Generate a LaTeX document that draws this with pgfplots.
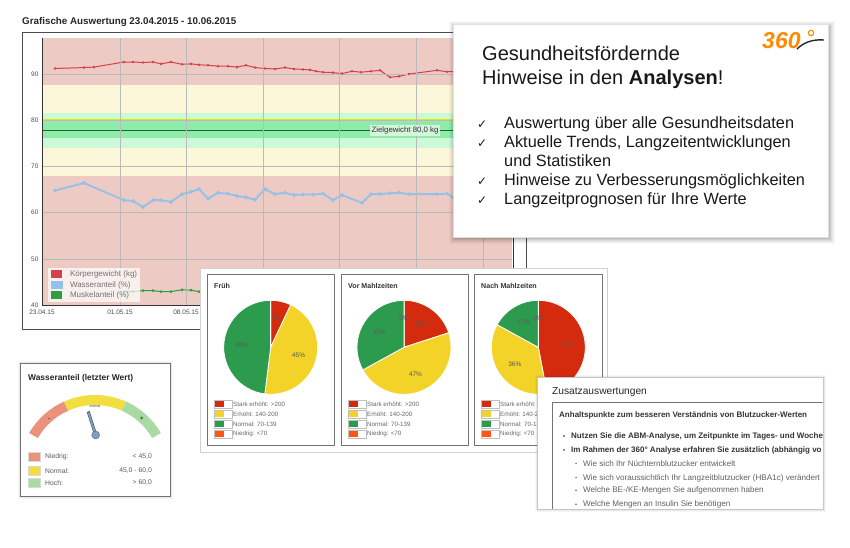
\documentclass[border=0pt]{standalone}
\usepackage{pgfplots}
\usepackage{pgfplotstable}
\pgfplotsset{compat=1.18}
\usepackage{fontspec}
\setmainfont{Liberation Sans}
\newfontfamily\dejavu{DejaVu Sans}

\definecolor{bandRed}{HTML}{EDCAC3}
\definecolor{bandYel}{HTML}{FDF7D9}
\definecolor{bandLGrn}{HTML}{CCFAD8}
\definecolor{bandGrn}{HTML}{8FEBA9}
\definecolor{lineRed}{HTML}{D4414A}
\definecolor{lineBlue}{HTML}{92C1EA}
\definecolor{lineGreen}{HTML}{2F9E3F}
\definecolor{zielYel}{HTML}{F2E200}
\definecolor{zielGrn}{HTML}{176A2A}
\definecolor{pie0}{HTML}{D42B0E}
\definecolor{pie1}{HTML}{F3D327}
\definecolor{pie2}{HTML}{2D9B4E}
\definecolor{pie3}{HTML}{FF5515}
\definecolor{gRed}{HTML}{EC927C}
\definecolor{gYel}{HTML}{F2DE3E}
\definecolor{gGrn}{HTML}{A9DAA3}
\definecolor{needle}{HTML}{7D9EC2}
\definecolor{logoOrange}{HTML}{FF8A00}

% Koerpergewicht, Wasseranteil, Muskelanteil (x = Position auf der Zeitachse)
\pgfplotstableread{
x    kg
13   91.2
42   91.4
52   91.5
82   92.6
91   92.6
101  92.5
111  92.6
119  92.2
129  92.6
140  92.1
149  92.2
157  92.0
166  91.9
176  91.7
186  91.7
195  91.5
204  91.9
213  91.4
223  91.2
233  91.1
243  91.4
252  91.1
261  91.0
268  90.9
274  90.6
281  90.4
291  90.3
300  90.1
310  90.6
319  90.4
329  90.6
338  90.8
348  89.3
357  89.5
367  90.0
395  90.8
405  90.5
440  90.7
468  90.6
}\gewicht

\pgfplotstableread{
x    w
13   64.8
42   66.4
82   62.7
91   62.5
101  61.2
111  62.7
119  62.7
129  62.3
140  64.0
149  64.5
157  65.1
166  63.0
176  64.3
186  64.1
195  63.6
204  63.3
213  62.8
223  65.1
233  64.0
243  64.3
252  63.8
261  63.9
271  63.9
281  64.1
291  62.7
300  63.8
320  62.1
329  64.0
338  64.0
348  64.2
357  64.3
367  64.0
395  64.0
405  64.1
411  63.3
440  63.5
468  63.5
}\wasser

\pgfplotstableread{
x    m
82   42.9
91   42.9
101  43.1
111  43.1
119  42.9
129  42.9
140  43.3
149  43.2
157  42.9
170  43.0
200  43.1
240  43.0
280  43.0
320  43.1
360  43.0
400  43.0
440  43.1
468  43.0
}\muskel

\pgfplotstableread{
cat  frueh  vor  nach
red  7      20   47
yel  45     47   36
grn  48     33   17
ora  0      0    0
}\piedata

% #1 = Spalte, #2 = 1: Beschriftung 0% weglassen
\newcommand{\drawpie}[2]{%
  \xdef\pstart{90}%
  \pgfplotstableforeachcolumnelement{#1}\of\piedata\as\p{%
    \pgfmathsetmacro{\pend}{\pstart-3.6*\p}%
    \fill[pie\pgfplotstablerow, draw=white, line width=0.8pt] (axis cs:0,0) -- ++(\pstart:47pt) arc[start angle=\pstart, end angle=\pend, radius=47pt] -- cycle;%
    \xdef\pstart{\pend}%
  }%
  \xdef\pstart{90}%
  \pgfplotstableforeachcolumnelement{#1}\of\piedata\as\p{%
    \pgfmathsetmacro{\pend}{\pstart-3.6*\p}%
    \pgfmathsetmacro{\pmid}{(\pstart+\pend)/2}%
    \ifnum\p=0 \ifnum#2=1 \else
      \path (axis cs:0,0) ++(\pmid:29pt) node[font=\fontsize{6.5}{7}\selectfont, text=black!65] {\p\%};%
    \fi\else
      \path (axis cs:0,0) ++(\pmid:29pt) node[font=\fontsize{6.5}{7}\selectfont, text=black!65] {\p\%};%
    \fi
    \xdef\pstart{\pend}%
  }%
}

\newcommand{\pielegend}[1]{% #1 = left x
  \foreach \c/\t [count=\i from 0] in {pie0/Stark erhöht: >200, pie1/Erhöht: 140-200, pie2/Normal: 70-139, pie3/Niedrig: <70}{
    \pgfmathsetmacro{\yy}{547-404-10*\i}
    \draw[black!25, fill=white] (#1,\yy-4) rectangle (#1+18,\yy+4);
    \fill[\c] (#1+0.6,\yy-3.4) rectangle (#1+9.5,\yy+3.4);
    \node[anchor=west, inner sep=0, font=\fontsize{6.2}{7}\selectfont, text=black!60] at (#1+19,\yy) {\t};
  }
}

\begin{document}
\begin{tikzpicture}[x=1pt, y=1pt]
\fill[white] (0,0) rectangle (850,547);

% ---------- Verlaufsdiagramm ----------
\node[anchor=base west, inner sep=0, font=\bfseries\fontsize{9.8}{11}\selectfont, text=black!85] at (22,547-25) {Grafische Auswertung 23.04.2015 - 10.06.2015};
\draw[black!70, line width=0.8pt] (22,547-329) rectangle (526,547-32);
\draw[black!80, line width=0.8pt] (513,547-38) -- (513,547-305);

\begin{axis}[
  at={(42pt,242pt)}, anchor=south west,
  scale only axis, width=470pt, height=267pt,
  xmin=0, xmax=470, ymin=40, ymax=97.8,
  axis on top,
  axis lines*=left,
  axis line style={-, black!80, line width=0.9pt},
  xtick={0,78,144,221,297,374,441},
  xticklabels={23.04.15,01.05.15,08.05.15,15.05.15,22.05.15,29.05.15,05.06.15},
  ytick={40,50,60,70,80,90},
  grid=major,
  major grid style={black!27, line width=0.5pt},
  major tick length=0pt,
  tick label style={font=\fontsize{6.5}{7}\selectfont, text=black!70},
  xticklabel style={yshift=-1pt},
  /pgf/number format/assume math mode=true,
  legend style={at={(0.0128,0.01)}, anchor=south west, fill=white, fill opacity=0.7,
    text opacity=1, draw=none, font=\fontsize{8}{9}\selectfont, text=black!55,
    row sep=2pt, column sep=7pt, inner sep=2.5pt, nodes={inner sep=0.5pt}},
  legend cell align=left,
  legend image code/.code={\fill[#1, fill opacity=1] (0pt,-3.5pt) rectangle (10pt,3.5pt);},
]
\addplot[fill=bandRed, draw=none, forget plot] coordinates {(0,87.6)(470,87.6)(470,97.8)(0,97.8)};
\addplot[fill=bandYel, draw=none, forget plot] coordinates {(0,81.5)(470,81.5)(470,87.6)(0,87.6)};
\addplot[fill=bandLGrn, draw=none, forget plot] coordinates {(0,73.9)(470,73.9)(470,81.5)(0,81.5)};
\addplot[fill=bandGrn, draw=none, forget plot] coordinates {(0,76.1)(470,76.1)(470,79.8)(0,79.8)};
\addplot[fill=bandYel, draw=none, forget plot] coordinates {(0,68.0)(470,68.0)(470,73.9)(0,73.9)};
\addplot[fill=bandRed, draw=none, forget plot] coordinates {(0,40)(470,40)(470,68.0)(0,68.0)};
\addplot[zielYel, line width=1.6pt, forget plot] coordinates {(0,80)(470,80)};
\addplot[zielGrn, line width=1pt, forget plot] coordinates {(0,77.8)(470,77.8)};

\addplot[lineRed, line width=1pt, mark=*, mark size=0.7pt] table[x=x, y=kg] {\gewicht};
\addlegendentry{Körpergewicht (kg)}
\addplot[lineBlue, line width=1.8pt, mark=*, mark size=0.8pt, mark options={fill=black!40!lineBlue, draw=none}] table[x=x, y=w] {\wasser};
\addlegendentry{Wasseranteil (\%)}
\addplot[lineGreen, line width=1pt, mark=*, mark size=0.8pt] table[x=x, y=m] {\muskel};
\addlegendentry{Muskelanteil (\%)}

\coordinate (ziel) at (axis cs:363,77.8);
\end{axis}
\node[fill=black!4!bandLGrn!60!white, fill opacity=0.92, text opacity=1, inner sep=2pt,
  font=\fontsize{7.8}{8}\selectfont, text=black!80] at (ziel) {Zielgewicht 80,0 kg};

% ---------- Hinweisbox ----------
\foreach \d/\o in {6/0.025,5/0.03,4/0.04,3/0.05,2/0.06,1/0.08}{
  \fill[black, opacity=\o] (453-\d+2,547-237-\d-1) rectangle (828+\d+1,547-24+\d-3);
}
\fill[white] (453,547-237) rectangle (828,547-24);
\draw[black!12] (453,547-237) rectangle (828,547-24);
\node[anchor=base west, inner sep=0, font=\fontsize{20}{22}\selectfont, text=black!90] at (482,547-61) {Gesundheitsfördernde};
\node[anchor=base west, inner sep=0, font=\fontsize{20}{22}\selectfont, text=black!90] at (482,547-85) {Hinweise in den \textbf{Analysen}!};
\foreach \yy/\t/\c in {129/Auswertung über alle Gesundheitsdaten/1, 148/{Aktuelle Trends, Langzeitentwicklungen}/1, 167/und Statistiken/0, 186/Hinweise zu Verbesserungsmöglichkeiten/1, 205/Langzeitprognosen für Ihre Werte/1}{
  \node[anchor=base west, inner sep=0, font=\fontsize{16.3}{18}\selectfont, text=black!90] at (504,547-\yy) {\t};
  \ifnum\c=1
    \node[anchor=base west, inner sep=0, font=\dejavu\fontsize{12}{13}\selectfont, text=black!90] at (477,547-\yy) {✓};
  \fi
}
% Logo
\node[anchor=base west, inner sep=0, font=\bfseries\itshape\fontsize{23}{24}\selectfont, text=logoOrange] at (762,547-49) {360};
\draw[black!85, line width=1.4pt] (797,547-49) .. controls (803,547-43) and (812,547-39) .. (824,547-40);
\draw[logoOrange, line width=1.1pt] (811,547-33) circle (2.7pt);

% ---------- Kreisdiagramme ----------
\fill[white] (200,547-452) rectangle (607,547-268);
\draw[black!18] (200,547-452) rectangle (607,547-268);
\foreach \xa/\xb in {207/334, 341/468, 474/602}{
  \draw[black!55, line width=0.8pt] (\xa,547-445) rectangle (\xb,547-274);
}
\node[anchor=base west, inner sep=0, font=\bfseries\fontsize{7.1}{8}\selectfont, text=black!80] at (214,547-288) {Früh};
\node[anchor=base west, inner sep=0, font=\bfseries\fontsize{7.1}{8}\selectfont, text=black!80] at (348,547-288) {Vor Mahlzeiten};
\node[anchor=base west, inner sep=0, font=\bfseries\fontsize{7.1}{8}\selectfont, text=black!80] at (481,547-288) {Nach Mahlzeiten};

\begin{axis}[at={(270.7pt,199.7pt)}, anchor=center, scale only axis, width=100pt, height=100pt,
  xmin=-50, xmax=50, ymin=-50, ymax=50, hide axis, clip=false]
\addplot[draw=none, forget plot] coordinates {(-50,-50)(50,50)};
\pgfplotsextra{\drawpie{frueh}{1}}
\end{axis}
\begin{axis}[at={(404pt,199.7pt)}, anchor=center, scale only axis, width=100pt, height=100pt,
  xmin=-50, xmax=50, ymin=-50, ymax=50, hide axis, clip=false]
\addplot[draw=none, forget plot] coordinates {(-50,-50)(50,50)};
\pgfplotsextra{\drawpie{vor}{0}}
\end{axis}
\begin{axis}[at={(538.3pt,199.7pt)}, anchor=center, scale only axis, width=100pt, height=100pt,
  xmin=-50, xmax=50, ymin=-50, ymax=50, hide axis, clip=false]
\addplot[draw=none, forget plot] coordinates {(-50,-50)(50,50)};
\pgfplotsextra{\drawpie{nach}{0}}
\end{axis}
\pielegend{214}
\pielegend{348}
\pielegend{481}

% ---------- Zusatzauswertungen ----------
\foreach \d/\o in {3/0.03,2/0.05,1/0.07}{
  \fill[black, opacity=\o] (537-\d+1,547-509-\d) rectangle (823+\d,547-377+\d-1);
}
\fill[white] (537,547-509) rectangle (823,547-377);
\draw[black!22] (537,547-509) rectangle (823,547-377);
\begin{scope}
\clip (537.5,547-508.5) rectangle (822.5,547-377.5);
\node[anchor=base west, inner sep=0, font=\fontsize{10.2}{12}\selectfont, text=black!85] at (552,547-394) {Zusatzauswertungen};
\draw[black!55, line width=0.8pt] (552,547-512) -- (552,547-402) -- (823,547-402);
\node[anchor=base west, inner sep=0, font=\bfseries\fontsize{8}{9}\selectfont, text=black!80] at (559,547-417.7) {Anhaltspunkte zum besseren Verständnis von Blutzucker-Werten};
\foreach \yy/\t in {438.3/{Nutzen Sie die ABM-Analyse, um Zeitpunkte im Tages- und Woche}, 452.3/{Im Rahmen der 360° Analyse erfahren Sie zusätzlich (abhängig vo}}{
  \node[anchor=base west, inner sep=0, font=\bfseries\fontsize{8}{9}\selectfont, text=black!80] at (571,547-\yy) {\t};
  \fill[black!80] (564,547-\yy+2.4) circle (0.9pt);
}
\foreach \yy/\t in {466/Wie sich Ihr Nüchternblutzucker entwickelt, 480/Wie sich voraussichtlich Ihr Langzeitblutzucker (HBA1c) verändert, 492.7/{Welche BE-/KE-Mengen Sie aufgenommen haben}, 506.7/Welche Mengen an Insulin Sie benötigen}{
  \node[anchor=base west, inner sep=0, font=\fontsize{8.1}{9}\selectfont, text=black!62] at (583,547-\yy) {\t};
  \fill[black!62] (576,547-\yy+2.4) circle (0.85pt);
}
\end{scope}

% ---------- Tachometer Wasseranteil ----------
\foreach \d/\o in {3/0.03,2/0.05,1/0.07}{
  \fill[black, opacity=\o] (20-\d+1,547-496-\d) rectangle (170+\d,547-363+\d-1);
}
\fill[white] (20,547-496) rectangle (170,547-363);
\draw[black!55, line width=0.8pt] (20,547-496) rectangle (170,547-363);
\node[anchor=base west, inner sep=0, font=\bfseries\fontsize{8.4}{9}\selectfont, text=black!85] at (28,547-380) {Wasseranteil (letzter Wert)};
\begin{axis}[at={(20pt,51pt)}, anchor=south west, scale only axis, width=150pt, height=133pt,
  xmin=20, xmax=170, ymin=51, ymax=184, hide axis, clip=false]
\pgfplotsextra{
  \foreach \a/\b/\c in {150/114/gRed, 114/66/gYel, 66/30/gGrn}{
    \fill[\c] (axis cs:95,76) ++(\a:76pt) arc[start angle=\a, end angle=\b, radius=76pt]
      -- ++(\b:-10pt) arc[start angle=\b, end angle=\a, radius=66pt] -- cycle;
  }
  \node[font=\fontsize{3.5}{4}\selectfont, text=black!80] at (axis cs:95,547-406) {normal};
  \node[font=\bfseries\fontsize{6}{6}\selectfont, text=black!80] at (axis cs:49,547-420) {-};
  \node[font=\bfseries\fontsize{6}{6}\selectfont, text=black!80] at (axis cs:142,547-419) {+};
}
\addplot[black!45!needle, line width=3pt] coordinates {(95.7,112) (88.2,135.5)};
\addplot[needle, line width=1.8pt] coordinates {(95.7,112) (88.4,134.5)};
\addplot[only marks, mark=*, mark size=4pt, mark options={fill=needle, draw=black!30!needle}] coordinates {(95.7,112)};
\end{axis}
\foreach \yy/\c/\t/\v in {457/gRed/Niedrig:/{< 45,0}, 471/gYel/Normal:/{45,0 - 60,0}, 483/gGrn/Hoch:/{> 60,0}}{
  \draw[black!15, fill=\c] (28,547-\yy-4.5) rectangle (40,547-\yy+4.5);
  \node[anchor=west, inner sep=0, font=\fontsize{6.8}{7}\selectfont, text=black!65] at (45,547-\yy) {\t};
  \node[anchor=east, inner sep=0, font=\fontsize{6.8}{7}\selectfont, text=black!65] at (152,547-\yy) {\v};
}
\pgfresetboundingbox
\path[use as bounding box] (0,0) rectangle (850,547);
\end{tikzpicture}
\end{document}
